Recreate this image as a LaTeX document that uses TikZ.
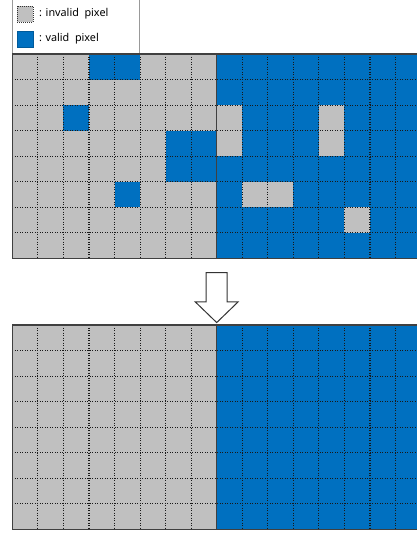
\documentclass[tikz,border=0pt]{standalone}
\usepackage{fontspec}
\setmainfont{Noto Sans}
\setsansfont{Noto Sans}
\usetikzlibrary{shapes.arrows, positioning}
\definecolor{pixgray}{HTML}{C0C0C0}
\definecolor{pixblue}{HTML}{0070C0}
\newcommand{\cw}{25.55}
\tikzset{
    x=1pt, y=-1pt,
    font=\sffamily\fontsize{10.8}{13}\selectfont,
    legend_frame/.style={
        draw=gray!80,
        line width=0.8pt
    },
    key_invalid/.style={
        rectangle,
        draw=gray!40!black,
        fill=pixgray,
        dashed,
        dash pattern=on 1pt off 1pt,
        line width=0.8pt,
        minimum size=16pt,
        inner sep=0pt
    },
    key_valid/.style={
        rectangle,
        draw=pixblue!80!black,
        fill=pixblue,
        line width=0.6pt,
        minimum size=16pt,
        inner sep=0pt
    },
    key_text/.style={
        inner sep=0pt,
        anchor=west
    },
    grid_dot/.style={
        line width=1.1pt,
        dash pattern=on 1.1pt off 1.4pt,
        black!90
    },
    grid_frame/.style={
        line width=1.4pt,
        draw=black!75
    },
    down_arrow/.style={
        single arrow,
        draw=black!80,
        fill=white,
        line width=1pt,
        rotate=-90,
        inner xsep=0pt,
        inner ysep=10pt,
        minimum height=50pt,
        single arrow head extend=11pt,
        single arrow tip angle=92
    }
}

\begin{document}
\begin{tikzpicture}
\useasboundingbox (0,0) rectangle (417,533);
\clip (0,0) rectangle (417,533);

% --- Legend ---
\draw[legend_frame] (12,-3) rectangle (139.5,54);
\node[key_invalid] (keyInvalid) at (25,14) {};
\node[key_text, right=5.5pt of keyInvalid.east] (txtInvalid) {: invalid\ \ pixel};
\node[key_valid] (keyValid) at (25,39) {};
\node[key_text, right=5.5pt of keyValid.east] (txtValid) {: valid\ \ pixel};

% --- Top grid (before) ---
\begin{scope}[shift={(12.3,54)}]
    \fill[pixgray] (0,0) rectangle (8*\cw,8*\cw);
    \fill[pixblue] (8*\cw,0) rectangle (16*\cw,8*\cw);
    \foreach \c/\r in {3/0,4/0,2/2,6/3,7/3,6/4,7/4,4/5}
        \fill[pixblue] (\c*\cw,\r*\cw) rectangle ++(\cw,\cw);
    \foreach \c/\r in {8/2,8/3,12/2,12/3,9/5,10/5,13/6}
        \fill[pixgray] (\c*\cw,\r*\cw) rectangle ++(\cw,\cw);
    \foreach \i in {1,...,7}
        \draw[grid_dot] (0,\i*\cw) -- (16*\cw,\i*\cw);
    \foreach \i in {1,...,7,9,10,...,15}
        \draw[grid_dot] (\i*\cw,0) -- (\i*\cw,8*\cw);
    \draw[grid_frame] (0,0) rectangle (16*\cw,8*\cw);
    \draw[grid_frame] (8*\cw,0) -- (8*\cw,8*\cw);
\end{scope}

% --- Arrow ---
\node[down_arrow] (step_arrow) at (216.7,292.5) {};

% --- Bottom grid (after) ---
\begin{scope}[shift={(12.3,325)}]
    \fill[pixgray] (0,0) rectangle (8*\cw,8*\cw);
    \fill[pixblue] (8*\cw,0) rectangle (16*\cw,8*\cw);
    \foreach \i in {1,...,7}
        \draw[grid_dot] (0,\i*\cw) -- (16*\cw,\i*\cw);
    \foreach \i in {1,...,7,9,10,...,15}
        \draw[grid_dot] (\i*\cw,0) -- (\i*\cw,8*\cw);
    \draw[grid_frame] (0,0) rectangle (16*\cw,8*\cw);
    \draw[grid_frame] (8*\cw,0) -- (8*\cw,8*\cw);
\end{scope}

\end{tikzpicture}
\end{document}
